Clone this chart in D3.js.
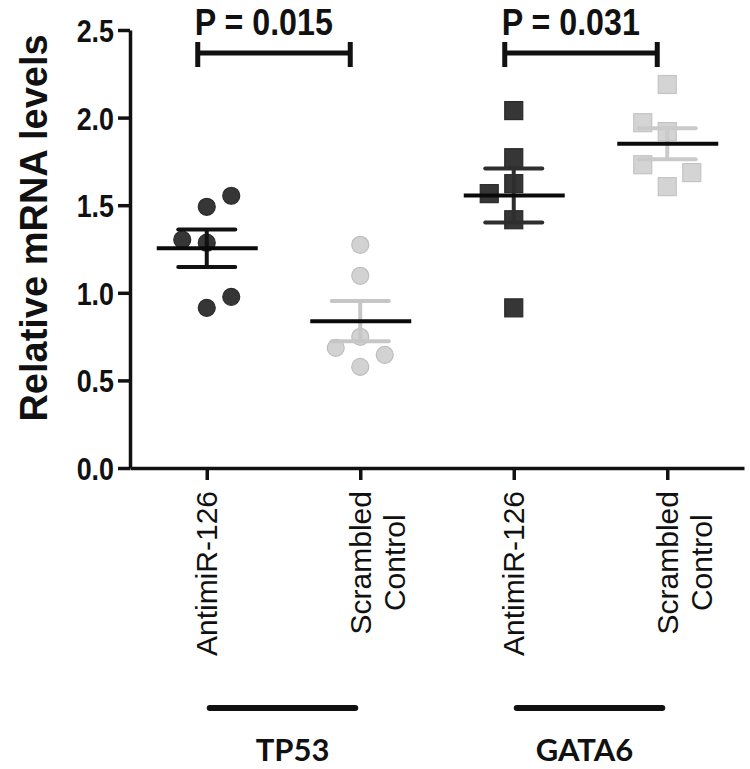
<!DOCTYPE html>
<html><head><meta charset="utf-8">
<script src="https://cdn.jsdelivr.net/npm/d3@7"></script>
<style>body{margin:0;background:#fff}svg{display:block}</style>
</head><body>
<svg id="chart" width="750" height="769"></svg>
<script>
// ---------- data ----------
const genes = ["TP53", "GATA6"];
const categories = ["TP53|AntimiR-126", "TP53|Scrambled Control", "GATA6|AntimiR-126", "GATA6|Scrambled Control"];
const categoryLabels = [["AntimiR-126"], ["Scrambled", "Control"], ["AntimiR-126"], ["Scrambled", "Control"]];
const tp53Antimir    = [1.554, 1.491, 1.303, 1.286, 0.914, 0.977];
const tp53Scrambled  = [1.274, 1.097, 0.749, 0.686, 0.646, 0.577];
const gata6Antimir   = [2.040, 1.771, 1.623, 1.566, 1.417, 0.914];
const gata6Scrambled = [2.189, 1.971, 1.920, 1.731, 1.686, 1.606];
// beeswarm column of each point (as seen in the picture)
const tp53AntimirCols    = [1, 0, -1, 0, 0, 1];
const tp53ScrambledCols  = [0, 0, 0, -1, 1, 0];
const gata6AntimirCols   = [0, 0, 0, -1, 0, 0];
const gata6ScrambledCols = [0, -1, 0, -1, 1, 0];
const yTicks = [0, 0.5, 1.0, 1.5, 2.0, 2.5];
const pLabels = ["P = 0.015", "P = 0.031"];

// ---------- setup ----------
const svg = d3.select("#chart");
svg.append("rect").attr("width", 750).attr("height", 769).attr("fill", "#fff");

const y = d3.scaleLinear().domain([0, 2.5]).range([468, 30]);
const x = d3.scalePoint().domain(categories).range([130, 744]).padding(0.5);
const col = d3.scaleLinear().domain([-1, 1]).range([-24.5, 24.5]);

const groups = [
  {cat: categories[0], vals: tp53Antimir,    cols: tp53AntimirCols,    shape: "circle", fill: "#363636", stroke: "#2a2a2a", err: "#111"},
  {cat: categories[1], vals: tp53Scrambled,  cols: tp53ScrambledCols,  shape: "circle", fill: "#d2d2d2", stroke: "#bcbcbc", err: "#c6c6c6"},
  {cat: categories[2], vals: gata6Antimir,   cols: gata6AntimirCols,   shape: "square", fill: "#363636", stroke: "#2a2a2a", err: "#2e2e2e"},
  {cat: categories[3], vals: gata6Scrambled, cols: gata6ScrambledCols, shape: "square", fill: "#d4d4d4", stroke: "#c4c4c4", err: "#cacaca"}
];

// ---------- axes ----------
const yAxis = svg.append("g").attr("transform", "translate(130,0)")
  .call(d3.axisLeft(y).tickValues(yTicks).tickFormat(d3.format(".1f")).tickSize(12).tickSizeOuter(0).tickPadding(4));
yAxis.select(".domain").attr("stroke", "#111").attr("stroke-width", 3.5);
yAxis.selectAll(".tick line").attr("stroke", "#111").attr("stroke-width", 3.5);
yAxis.selectAll(".tick text")
  .attr("font-family", "'Liberation Sans', Arial, sans-serif")
  .attr("font-weight", "bold").attr("font-size", 32).attr("fill", "#111")
  .attr("dy", "0.36em");
// narrow the tick labels horizontally like the picture
yAxis.selectAll(".tick text").each(function() {
  const t = d3.select(this);
  const xx = +t.attr("x");
  t.attr("x", xx / 0.84).attr("transform", "scale(0.84,1)");
});

const xAxis = svg.append("g").attr("transform", "translate(0,468)")
  .call(d3.axisBottom(x).tickSize(12).tickSizeOuter(0).tickFormat(""));
xAxis.select(".domain").attr("stroke", "#111").attr("stroke-width", 3.5);
xAxis.selectAll(".tick line").attr("stroke", "#111").attr("stroke-width", 3.5);

// category labels (rotated)
const labG = svg.append("g");
categories.forEach((c, i) => {
  const lines = categoryLabels[i];
  const cx = x(c);
  const top = 491;
  const g = labG.append("g");
  const texts = lines.map((ln, j) => g.append("text")
    .attr("font-family", "'Liberation Sans', Arial, sans-serif")
    .attr("font-size", 30).attr("fill", "#111")
    .attr("text-anchor", "middle")
    .text(ln));
  const lens = texts.map(t => t.node().getComputedTextLength());
  const maxLen = d3.max(lens);
  const cy = top + maxLen / 2;
  texts.forEach((t, j) => {
    const lx = cx + j * 34;
    t.attr("transform", `translate(${lx + 10.5},${cy}) rotate(-90)`);
  });
});

// y axis title
svg.append("text")
  .attr("transform", "translate(47,228) rotate(-90)")
  .attr("text-anchor", "middle")
  .attr("font-family", "'Liberation Sans', Arial, sans-serif")
  .attr("font-weight", "bold").attr("font-size", 38).attr("fill", "#111")
  .text("Relative mRNA levels");

// ---------- points, error bars, means ----------
const R = 8.5, S = 18;
groups.forEach(gr => {
  const cx = x(gr.cat);
  const g = svg.append("g");
  const pts = gr.vals.map((v, i) => ({v, c: gr.cols[i]}));
  if (gr.shape === "circle") {
    g.selectAll("circle").data(pts).join("circle")
      .attr("cx", d => cx + col(d.c)).attr("cy", d => y(d.v)).attr("r", R)
      .attr("fill", gr.fill).attr("stroke", gr.stroke).attr("stroke-width", 1.2);
  } else {
    g.selectAll("rect").data(pts).join("rect")
      .attr("x", d => cx + col(d.c) - S / 2).attr("y", d => y(d.v) - S / 2)
      .attr("width", S).attr("height", S)
      .attr("fill", gr.fill).attr("stroke", gr.stroke).attr("stroke-width", 1.2);
  }
  const m = d3.mean(gr.vals);
  const sem = d3.deviation(gr.vals) / Math.sqrt(gr.vals.length);
  g.append("line").attr("x1", cx).attr("x2", cx).attr("y1", y(m + sem)).attr("y2", y(m - sem))
    .attr("stroke", gr.err).attr("stroke-width", 4);
  [m + sem, m - sem].forEach(e => {
    g.append("line").attr("x1", cx - 28.5).attr("x2", cx + 28.5).attr("y1", y(e)).attr("y2", y(e))
      .attr("stroke", gr.err).attr("stroke-width", 4).attr("stroke-linecap", "round");
  });
  g.append("line").attr("x1", cx - 50).attr("x2", cx + 51).attr("y1", y(m)).attr("y2", y(m))
    .attr("stroke", "#0a0a0a").attr("stroke-width", 4);
});

// ---------- significance brackets ----------
[[0, 1], [2, 3]].forEach(([a, b], k) => {
  const x1 = x(categories[a]) - 9, x2 = x(categories[b]) - 10;
  const by = 53;
  const g = svg.append("g").attr("stroke", "#111").attr("stroke-width", 5);
  g.append("line").attr("x1", x1).attr("x2", x2).attr("y1", by).attr("y2", by);
  g.append("line").attr("x1", x1).attr("x2", x1).attr("y1", 42).attr("y2", 67);
  g.append("line").attr("x1", x2).attr("x2", x2).attr("y1", 42).attr("y2", 67);
  const tx = x1 - 3;
  svg.append("text")
    .attr("transform", `translate(${tx},35) scale(0.87,1)`)
    .attr("font-family", "'Liberation Sans', Arial, sans-serif")
    .attr("font-weight", "bold").attr("font-size", 37).attr("fill", "#111")
    .text(pLabels[k]);
});

// ---------- gene group underlines and labels ----------
const geneOffsets = [9, -6];
genes.forEach((gname, k) => {
  const a = x(categories[2 * k]), b = x(categories[2 * k + 1]);
  svg.append("line").attr("x1", a + 3).attr("x2", b - 5).attr("y1", 708).attr("y2", 708)
    .attr("stroke", "#111").attr("stroke-width", 6).attr("stroke-linecap", "round");
  svg.append("text")
    .attr("x", (a + b) / 2 + geneOffsets[k]).attr("y", 761)
    .attr("text-anchor", "middle")
    .attr("font-family", "Lato, 'Open Sans', sans-serif")
    .attr("font-weight", "bold").attr("font-size", 31).attr("fill", "#111")
    .text(gname);
});
</script>
</body></html>
